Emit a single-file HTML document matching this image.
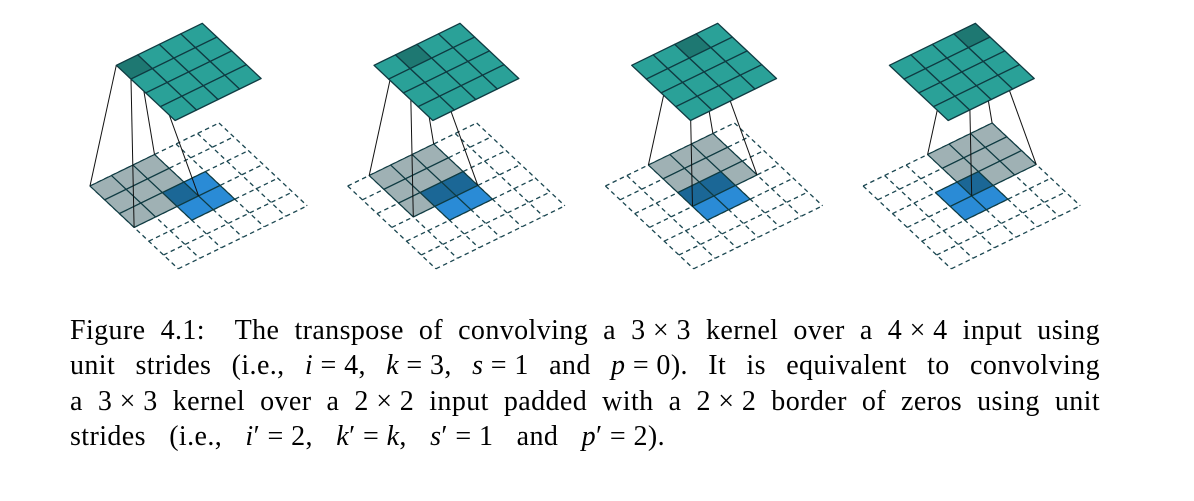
<!DOCTYPE html>
<html><head><meta charset="utf-8">
<style>
body{margin:0;background:#fff;width:1194px;height:501px;overflow:hidden;position:relative}
svg{position:absolute;left:0;top:0}
.cap{position:absolute;left:70px;width:1030px;font-family:"Liberation Serif",serif;font-size:28px;color:#000;letter-spacing:0.4px}
.ln{position:absolute;left:0;width:1030px;height:36px;line-height:36px;text-align:justify;text-align-last:justify;white-space:nowrap}
.ln.last{width:595px}
.m{display:inline-block;white-space:pre}
i{font-style:italic}
</style></head><body>
<svg id="s" width="1194" height="501" viewBox="0 0 1194 501"></svg>
<div class="cap">
<div class="ln" style="top:313px">Figure 4.1:&nbsp; The transpose of convolving a <span class="m">3 × 3</span> kernel over a <span class="m">4 × 4</span> input using</div>
<div class="ln" style="top:348px">unit strides (i.e., <span class="m"><i>i</i> = 4,</span> <span class="m"><i>k</i> = 3,</span> <span class="m"><i>s</i> = 1</span> and <span class="m"><i>p</i> = 0).</span> It is equivalent to convolving</div>
<div class="ln" style="top:384px">a <span class="m">3 × 3</span> kernel over a <span class="m">2 × 2</span> input padded with a <span class="m">2 × 2</span> border of zeros using unit</div>
<div class="ln last" style="top:419px">strides (i.e., <span class="m"><i>i</i>′ = 2,</span> <span class="m"><i>k</i>′ = <i>k</i>,</span> <span class="m"><i>s</i>′ = 1</span> and <span class="m"><i>p</i>′ = 2).</span></div>
</div>
<script>
var s=document.getElementById('s'),h='';
var u=[21.5,-10.5],v=[14.7,13.8];
function P(o,a,b){return [o[0]+a*u[0]+b*v[0],o[1]+a*u[1]+b*v[1]];}
function poly(o,a,b,w,hh,fill,stroke,sw){var p=[P(o,a,b),P(o,a+w,b),P(o,a+w,b+hh),P(o,a,b+hh)];
h+='<polygon points="'+p.map(function(q){return q[0].toFixed(1)+','+q[1].toFixed(1)}).join(' ')+'" fill="'+fill+'" stroke="'+(stroke||'none')+'" stroke-width="'+(sw||1.2)+'" stroke-linejoin="round"/>';}
function line(a,b,st){h+='<line x1="'+a[0].toFixed(1)+'" y1="'+a[1].toFixed(1)+'" x2="'+b[0].toFixed(1)+'" y2="'+b[1].toFixed(1)+'" '+st+'/>';}
var D='#0f3b42';
for(var k=0;k<4;k++){
 var B=[90+257.7*k,186],T=[B[0]+26.3,B[1]-120.7];
 var ds='stroke="#1a4650" stroke-width="1.3" stroke-dasharray="4.5,3.5"';
 for(var i=0;i<=6;i++){line(P(B,i,0),P(B,i,6),ds);line(P(B,0,i),P(B,6,i),ds);}
 for(var a=0;a<3;a++)for(var b=0;b<3;b++){var uu=k+a,vv=b;var inb=(uu>=2&&uu<=3&&vv>=2&&vv<=3);poly(B,uu,vv,1,1,inb?'#1b6796':'#9fb1b4',D,1.2);}
 for(var a=2;a<4;a++)for(var b=2;b<4;b++){var ink=(a>=k&&a<k+3&&b<3);if(!ink)poly(B,a,b,1,1,'#2a8bd6',D,1.2);}
 var st='stroke="#111" stroke-width="1"';
 line(P(B,k,0),P(T,k,0),st);line(P(B,k+3,0),P(T,k+1,0),st);line(P(B,k+3,3),P(T,k+1,1),st);line(P(B,k,3),P(T,k,1),st);
 for(var a=0;a<4;a++)for(var b=0;b<4;b++)poly(T,a,b,1,1,(a==k&&b==0)?'#1e7872':'#2aa198',D,1.3);
}
s.innerHTML=h;
</script>
</body></html>
